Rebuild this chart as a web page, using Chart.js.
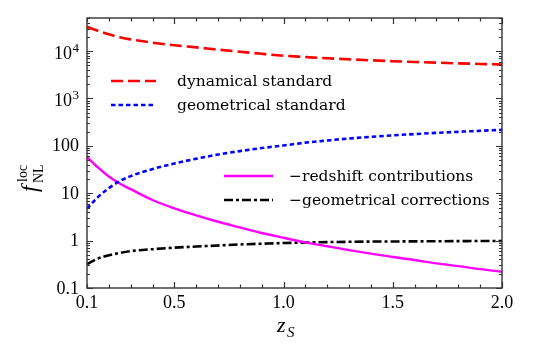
<!DOCTYPE html>
<html>
<head>
<meta charset="utf-8">
<script src="https://cdn.jsdelivr.net/npm/chart.js@4/dist/chart.umd.min.js"></script>
<style>
  html, body { margin: 0; padding: 0; background: #fff; }
  #wrap { width: 546px; height: 354px; }
</style>
</head>
<body>
<div id="wrap"><canvas id="fnlChart" width="546" height="354"></canvas></div>
<script>
// redshift values (x axis)
const zValues = [0.1, 0.15, 0.2, 0.25, 0.3, 0.4, 0.5, 0.6, 0.7, 0.8, 0.9, 1.0, 1.1, 1.2, 1.3, 1.4, 1.5, 1.6, 1.7, 1.8, 1.9, 2.0];

// series
const dynamicalStandard = [32600, 26800, 22600, 19700, 17700, 15100, 13300, 12000, 10760, 9710, 8770, 8000, 7500, 7050, 6700, 6400, 6130, 5900, 5700, 5520, 5360, 5220];
const geometricalStandard = [4.7, 8.3, 12.8, 18, 23, 32.4, 42.5, 53.5, 65.5, 77.5, 90, 102, 117, 130, 143, 155, 166.5, 177.5, 188, 198, 208, 218];
const redshiftContrib = [58, 35, 22.5, 16, 12.2, 7.2, 4.8, 3.4, 2.5, 1.9, 1.45, 1.15, 0.92, 0.76, 0.63, 0.53, 0.45, 0.39, 0.33, 0.29, 0.25, 0.22];
const geometricalCorr = [0.32, 0.42, 0.49, 0.55, 0.60, 0.66, 0.71, 0.75, 0.79, 0.83, 0.86, 0.89, 0.91, 0.93, 0.945, 0.955, 0.96, 0.965, 0.97, 0.975, 0.98, 0.98];

const seriesNames = ['dynamical standard', 'geometrical standard', '\u2212redshift contributions', '\u2212geometrical corrections'];

// tick labels
const xTickValues = [0.1, 0.5, 1.0, 1.5, 2.0];
const xTickLabels = ['0.1', '0.5', '1.0', '1.5', '2.0'];
const yTickValues = [0.1, 1, 10, 100, 1000, 10000];
const yTickLabels = ['0.1', '1', '10', '100', '10^3', '10^4'];

const toPoints = (arr) => arr.map((v, i) => ({ x: zValues[i], y: v }));

const serif = '"Liberation Serif", "DejaVu Serif", serif';
const legendFont = '15.5px "DejaVu Serif", serif';

// legend blocks placed inside the plot like the original
const legendSpots = [
  { line: [111, 156], y: 81, textX: 177 },
  { line: [111, 156], y: 105, textX: 177 },
  { line: [224, 273], y: 176, textX: 289 },
  { line: [224, 273], y: 200, textX: 289 },
];

const framePlugin = {
  id: 'frame',
  afterDatasetsDraw(chart) {
    const ctx = chart.ctx;
    const { left, right, top, bottom } = chart.chartArea;
    const xs = chart.scales.x;
    const ys = chart.scales.y;
    ctx.save();
    ctx.strokeStyle = '#333';
    ctx.lineWidth = 1.2;

    // x ticks every 0.1, longer on labelled ones
    for (let i = 1; i <= 20; i++) {
      const v = i / 10;
      const px = Math.round(xs.getPixelForValue(v)) + 0.5;
      const major = (i % 5 === 0);
      const len = major ? 6 : 3.5;
      ctx.beginPath();
      ctx.moveTo(px, bottom); ctx.lineTo(px, bottom - len);
      ctx.moveTo(px, top); ctx.lineTo(px, top + len);
      ctx.stroke();
    }
    // y log ticks
    for (let e = -1; e <= 4; e++) {
      for (let s = 1; s <= 9; s++) {
        const v = s * Math.pow(10, e);
        if (v > ys.max) break;
        const py = Math.round(ys.getPixelForValue(v)) + 0.5;
        const len = s === 1 ? 6 : 3;
        ctx.beginPath();
        ctx.moveTo(left, py); ctx.lineTo(left + len, py);
        ctx.moveTo(right, py); ctx.lineTo(right - len, py);
        ctx.stroke();
      }
    }
    ctx.lineWidth = 1.4;
    ctx.strokeRect(left, top, right - left, bottom - top);

    // tick labels
    ctx.fillStyle = '#000';
    ctx.font = '18px ' + serif;
    ctx.textAlign = 'center';
    ctx.textBaseline = 'alphabetic';
    xTickValues.forEach((v, i) => {
      ctx.fillText(xTickLabels[i], xs.getPixelForValue(v), 308);
    });
    ctx.textAlign = 'right';
    yTickValues.forEach((v, i) => {
      const py = ys.getPixelForValue(v);
      const lab = yTickLabels[i];
      if (lab.includes('^')) {
        const [base, exp] = lab.split('^');
        ctx.font = '13px ' + serif;
        ctx.fillText(exp, 79, py + 1);
        const ew = ctx.measureText(exp).width;
        ctx.font = '18px ' + serif;
        ctx.fillText(base, 79 - ew - 0.5, py + 7.5);
      } else {
        ctx.font = '18px ' + serif;
        ctx.fillText(lab, 79, py + 5.5);
      }
    });

    // x title z_S
    ctx.textAlign = 'left';
    ctx.font = 'italic 22px ' + serif;
    ctx.fillText('z', 277, 332);
    ctx.font = 'italic 15px ' + serif;
    ctx.fillText('S', 287, 337);

    // y title f^loc_NL (rotated)
    ctx.save();
    ctx.translate(37, 192);
    ctx.rotate(-Math.PI / 2);
    ctx.font = 'italic 23px ' + serif;
    ctx.fillText('f', 0, 0);
    ctx.font = '14px ' + serif;
    ctx.fillText('loc', 10, -10);
    ctx.fillText('NL', 9, 6);
    ctx.restore();

    // legend
    chart.data.datasets.forEach((ds, i) => {
      const spot = legendSpots[i];
      ctx.save();
      ctx.strokeStyle = ds.borderColor;
      ctx.lineWidth = ds.borderWidth;
      ctx.setLineDash(ds.borderDash || []);
      ctx.beginPath();
      ctx.moveTo(spot.line[0], spot.y);
      ctx.lineTo(spot.line[1], spot.y);
      ctx.stroke();
      ctx.restore();
      ctx.font = legendFont;
      ctx.fillStyle = '#000';
      ctx.textAlign = 'left';
      ctx.fillText(ds.label, spot.textX, spot.y + 5);
    });
    ctx.restore();
  }
};

new Chart(document.getElementById('fnlChart').getContext('2d'), {
  type: 'line',
  data: {
    datasets: [
      {
        label: seriesNames[0],
        data: toPoints(dynamicalStandard),
        borderColor: '#ff0000',
        borderWidth: 2.6,
        borderDash: [12, 5],
      },
      {
        label: seriesNames[1],
        data: toPoints(geometricalStandard),
        borderColor: '#0000ff',
        borderWidth: 2.6,
        borderDash: [4.5, 3],
      },
      {
        label: seriesNames[2],
        data: toPoints(redshiftContrib),
        borderColor: '#ff00ff',
        borderWidth: 2.4,
      },
      {
        label: seriesNames[3],
        data: toPoints(geometricalCorr),
        borderColor: '#000000',
        borderWidth: 2.6,
        borderDash: [9, 3, 3, 3],
      },
    ],
  },
  options: {
    responsive: false,
    animation: false,
    layout: { padding: { left: 87, right: 44, top: 18, bottom: 66 } },
    elements: {
      point: { radius: 0 },
      line: { cubicInterpolationMode: 'monotone', fill: false, borderCapStyle: 'butt' },
    },
    plugins: {
      legend: { display: false },
      tooltip: { enabled: false },
    },
    scales: {
      x: { type: 'linear', min: 0.1, max: 2.0, display: false },
      y: { type: 'logarithmic', min: 0.1, max: 50000, display: false },
    },
  },
  plugins: [framePlugin],
});
</script>
</body>
</html>
